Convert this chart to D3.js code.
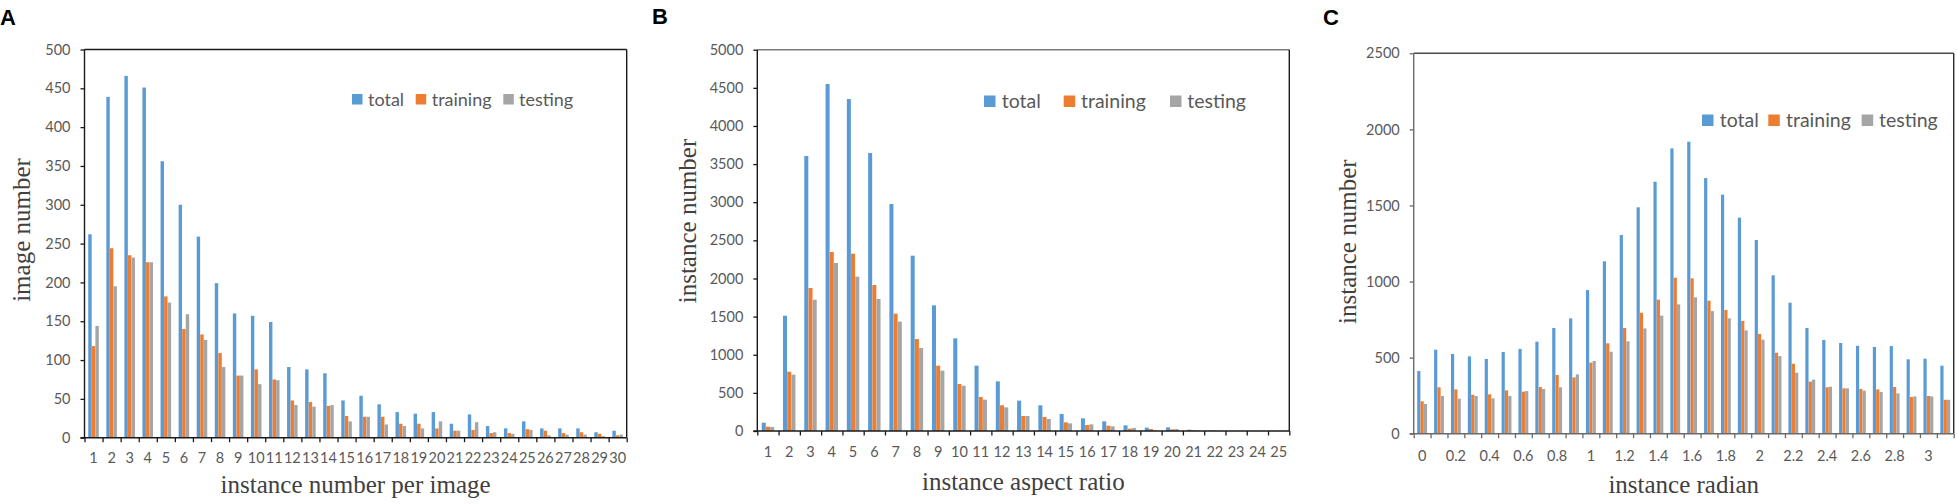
<!DOCTYPE html>
<html><head><meta charset="utf-8">
<script src="https://cdn.jsdelivr.net/npm/d3@7/dist/d3.min.js"></script>
<style>
html,body{margin:0;padding:0;background:#fff;}
svg{display:block;}
</style>
</head><body>
<svg id="chart" width="1957" height="504"></svg>
<script>
// ---------------- DATA ----------------
const seriesNames = ["total", "training", "testing"];

// Panel A: instance number per image
const aCategories = ["1","2","3","4","5","6","7","8","9","10","11","12","13","14","15","16","17","18","19","20","21","22","23","24","25","26","27","28","29","30"];
const aTotal    = [262,439,466,451,356,300,259,199,160,157,149,91,88,83,48,54,43,33,31,33,18,30,15,12,21,12,12,12,7,9];
const aTraining = [118,244,235,226,182,140,133,109,80,88,75,48,46,41,28,27,27,18,18,12,9,10,6,6,11,9,6,7,5,3];
const aTesting  = [144,195,232,226,174,159,126,91,80,69,74,42,40,42,21,27,17,15,12,21,9,20,7,5,10,3,4,4,2,4];
const aYTicks = [0,50,100,150,200,250,300,350,400,450,500];

// Panel B: instance aspect ratio
const bCategories = ["1","2","3","4","5","6","7","8","9","10","11","12","13","14","15","16","17","18","19","20","21","22","23","24","25"];
const bTotal    = [109,1512,3606,4550,4353,3645,2977,2299,1648,1215,857,651,398,337,223,166,127,74,44,48,17,6,3,3,2];
const bTraining = [57,778,1875,2347,2325,1914,1539,1206,857,616,446,337,197,184,114,79,70,31,26,22,9,3,1,1,1];
const bTesting  = [52,739,1722,2203,2024,1731,1434,1088,791,594,411,310,197,157,100,87,61,39,9,26,4,2,1,1,1];
const bYTicks = [0,500,1000,1500,2000,2500,3000,3500,4000,4500,5000];

// Panel C: instance radian
const cCategories = ["0","0.1","0.2","0.3","0.4","0.5","0.6","0.7","0.8","0.9","1","1.1","1.2","1.3","1.4","1.5","1.6","1.7","1.8","1.9","2","2.1","2.2","2.3","2.4","2.5","2.6","2.7","2.8","2.9","3","3.1"];
const cTickLabels = ["0","0.2","0.4","0.6","0.8","1","1.2","1.4","1.6","1.8","2","2.2","2.4","2.6","2.8","3"];
const cTotal    = [412,552,524,508,491,537,557,605,695,758,944,1133,1306,1488,1656,1875,1919,1680,1571,1420,1273,1041,861,695,616,596,578,570,576,489,493,447];
const cTraining = [213,305,291,256,259,285,276,307,386,370,467,594,695,795,881,1025,1021,874,813,741,655,532,460,342,305,298,294,291,307,241,248,223];
const cTesting  = [195,248,230,248,232,248,280,294,305,390,478,539,607,692,776,850,896,806,758,679,618,510,401,355,309,298,283,274,265,245,245,223];
const cYTicks = [0,500,1000,1500,2000,2500];
const cYMinor = d3.range(0, 2501, 100);

// ---------------- STYLE / LAYOUT ----------------
const colors = ["#5B9BD5", "#ED7D31", "#A5A5A5"];
const tickFont = "Lato, 'Open Sans', sans-serif";
const titleFont = "'Liberation Serif', 'DejaVu Serif', serif";

const panels = [
  { letter:"A", lx:0, ly:25,
    cats:aCategories, labels:aCategories, series:[aTotal,aTraining,aTesting], yTicks:aYTicks, yMinor:null, yMax:500,
    left:84.5, right:626.7, top:49.5, bottom:437.7,
    axisColor:"#1a1a1a", topColor:"#1a1a1a", rightColor:"#1a1a1a",
    xLabelDy:25.5, xTitle:"instance number per image", xTitleY:493,
    yTitle:"image number", yTitleX:30, yTitleY:230,
    legend:{ y:105.5, sq:10.5, font:18, items:[352,415.7,503.3], text:[368,431.7,519] } },
  { letter:"B", lx:652, ly:24,
    cats:bCategories, labels:bCategories, series:[bTotal,bTraining,bTesting], yTicks:bYTicks, yMinor:null, yMax:5000,
    left:757.3, right:1289.3, top:49.7, bottom:431,
    axisColor:"#1a1a1a", topColor:"#7a7a7a", rightColor:"#1a1a1a",
    xLabelDy:26, xTitle:"instance aspect ratio", xTitleY:490,
    yTitle:"instance number", yTitleX:695.5, yTitleY:221,
    legend:{ y:108, sq:11.5, font:19.5, items:[984,1063.7,1170], text:[1001.7,1081,1187.3] } },
  { letter:"C", lx:1323, ly:25,
    cats:cCategories, labels:cTickLabels, series:[cTotal,cTraining,cTesting], yTicks:cYTicks, yMinor:cYMinor, yMax:2500,
    left:1413.7, right:1953.7, top:53.3, bottom:433.7,
    axisColor:"#6a6a6a", topColor:"#4a4a4a", rightColor:"#2a2a2a",
    xLabelDy:27, xTitle:"instance radian", xTitleY:492.5,
    yTitle:"instance number", yTitleX:1356, yTitleY:241.7,
    legend:{ y:127, sq:11.5, font:19.5, items:[1702,1768.3,1861.7], text:[1719.7,1786,1879] } }
];

const svg = d3.select("#chart");

panels.forEach(p => {
  const g = svg.append("g");
  const n = p.cats.length;
  const pad = 0.4;
  const x = d3.scaleBand().domain(p.cats).range([p.left, p.right]).paddingInner(pad).paddingOuter(pad/2);
  const xs = d3.scaleBand().domain(seriesNames).range([0, x.bandwidth()]).padding(0.04);
  const y = d3.scaleLinear().domain([0, p.yMax]).range([p.bottom, p.top]);
  const xEdge = d3.scaleLinear().domain([0, n]).range([p.left, p.right]);

  // bars
  seriesNames.forEach((s, si) => {
    g.append("g").selectAll("rect").data(p.series[si]).join("rect")
      .attr("x", (d, i) => x(p.cats[i]) + xs(s))
      .attr("width", xs.bandwidth())
      .attr("y", d => y(d))
      .attr("height", d => p.bottom - y(d))
      .attr("fill", colors[si]);
  });

  // frame top / right
  g.append("line").attr("x1", p.left).attr("x2", p.right).attr("y1", p.top).attr("y2", p.top)
    .attr("stroke", p.topColor).attr("stroke-width", 1.4);
  g.append("line").attr("x1", p.right).attr("x2", p.right).attr("y1", p.top).attr("y2", p.bottom)
    .attr("stroke", p.rightColor).attr("stroke-width", 1.4);

  // y axis
  const yAxisG = g.append("g").attr("transform", `translate(${p.left},0)`);
  if (p.yMinor) {
    yAxisG.call(d3.axisLeft(y).tickValues(p.yMinor).tickSize(4).tickFormat(""));
  }
  yAxisG.call(d3.axisLeft(y).tickValues(p.yTicks).tickSize(4).tickPadding(10).tickFormat(d3.format("d")));
  yAxisG.select(".domain").remove();
  yAxisG.selectAll(".tick line").attr("stroke", p.axisColor).attr("stroke-width", 1.3);
  yAxisG.selectAll(".tick text").attr("fill", "#595959").style("font-family", tickFont).style("font-size", "14.5px");
  g.append("line").attr("x1", p.left).attr("x2", p.left).attr("y1", p.top).attr("y2", p.bottom)
    .attr("stroke", p.axisColor).attr("stroke-width", 1.4);

  // x axis: edge ticks
  const xTickG = g.append("g").attr("transform", `translate(0,${p.bottom})`)
    .call(d3.axisBottom(xEdge).tickValues(d3.range(0, n + 1)).tickSize(4.5).tickFormat(""));
  xTickG.select(".domain").remove();
  xTickG.selectAll(".tick line").attr("stroke", p.axisColor).attr("stroke-width", 1.3);
  g.append("line").attr("x1", p.left - 4).attr("x2", p.right).attr("y1", p.bottom).attr("y2", p.bottom)
    .attr("stroke", p.axisColor).attr("stroke-width", 1.4);

  // x axis labels
  const xLabG = g.append("g").attr("transform", `translate(0,${p.bottom})`)
    .call(d3.axisBottom(x).tickSize(0).tickPadding(0).tickFormat(c => p.labels.includes(c) ? c : ""));
  xLabG.select(".domain").remove();
  xLabG.selectAll(".tick text").attr("fill", "#595959").attr("dy", null).attr("y", p.xLabelDy)
    .style("font-family", tickFont).style("font-size", "14.5px");

  // titles
  g.append("text").attr("x", (p.left + p.right) / 2).attr("y", p.xTitleY).attr("text-anchor", "middle")
    .attr("fill", "#404040").style("font-family", titleFont).style("font-size", "25px").text(p.xTitle);
  g.append("text").attr("transform", `translate(${p.yTitleX},${p.yTitleY}) rotate(-90)`).attr("text-anchor", "middle")
    .attr("fill", "#404040").style("font-family", titleFont).style("font-size", "25px").text(p.yTitle);

  // panel letter
  g.append("text").attr("x", p.lx).attr("y", p.ly).attr("fill", "#000")
    .style("font-family", "'Liberation Sans', Arial, sans-serif").style("font-weight", "bold").style("font-size", "22px")
    .text(p.letter);

  // legend
  const L = p.legend;
  seriesNames.forEach((s, si) => {
    g.append("rect").attr("x", L.items[si]).attr("y", L.y - L.sq - 1).attr("width", L.sq).attr("height", L.sq)
      .attr("fill", colors[si]);
    g.append("text").attr("x", L.text[si]).attr("y", L.y).attr("fill", "#595959")
      .style("font-family", tickFont).style("font-size", L.font + "px").text(s);
  });
});
</script>
</body></html>
